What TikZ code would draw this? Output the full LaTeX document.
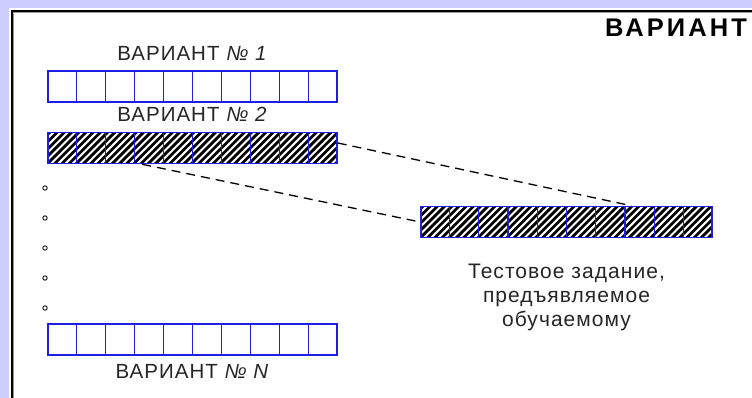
\documentclass[tikz,border=0pt]{standalone}
\usepackage{fontspec}
\setmainfont{Liberation Sans}
\newfontfamily\titlefont{Liberation Sans}[LetterSpace=12]
\newfontfamily\capfont{Liberation Sans}[LetterSpace=5]
\usetikzlibrary{positioning, calc}

\definecolor{lavender}{RGB}{204,204,255}
\definecolor{cellblue}{RGB}{30,30,230}

\begin{document}
\begin{tikzpicture}[x=1pt, y=1pt,
	cellrow/.style={draw=cellblue, line width=1.6pt, minimum width=289pt, minimum height=31pt, inner sep=0pt},
	hatched/.style={cellrow, fill=black, path picture={
		\foreach \k in {0,...,50}
			\draw[white, line width=2pt] ([xshift=\k*7.2pt-40pt]path picture bounding box.south west) -- ++(45:60pt);
	}},
	caption/.style={inner sep=0pt, font=\capfont\fontsize{20.5}{24}\selectfont, text=black!85},
	dashline/.style={black, line width=1.3pt, dash pattern=on 9pt off 6pt}
]
	\useasboundingbox (0,0) rectangle (752,398);
	% frame
	\fill[lavender] (0,0) rectangle (752,398);
	\fill[white] (9,0) rectangle (752,390);
	\draw[black!40, line width=1pt] (13.5,0) -- (13.5,385.5) -- (752,385.5);
	\draw[line width=2pt] (12,0) -- (12,387) -- (752,387);

	\node[inner sep=0pt, anchor=base west, font=\titlefont\bfseries\fontsize{25.5}{28}\selectfont] (title) at (605,361) {ВАРИАНТ};

	% variants
	\node[cellrow] (row1) at (192.5,311.5) {};
	\node[caption, above=9pt of row1] (lab1) {ВАРИАНТ \textit{№ 1}};
	\node[hatched] (row2) at (192.5,250) {};
	\node[caption, above=10pt of row2] (lab2) {ВАРИАНТ \textit{№ 2}};
	\node[cellrow] (rowN) at (192.5,58.5) {};
	\node[caption, below=8pt of rowN] (labN) {ВАРИАНТ \textit{№ N}};
	\foreach \y in {210,180,150,120,90}
		\draw[line width=0.9pt, fill=white] (45,\y) circle (2.2pt);

	% test task
	\node[hatched, minimum width=291pt] (task) at (566.5,176) {};
	\node[caption, align=center, below=26pt of task, font=\capfont\fontsize{21}{24}\selectfont] (taskText) {Тестовое задание,\\предъявляемое\\обучаемому};

	\foreach \r in {row1,row2,rowN,task}
		\foreach \i in {1,...,9}
			\draw[cellblue, line width=1.2pt] ($(\r.north west)!\i/10!(\r.north east)$) -- ($(\r.south west)!\i/10!(\r.south east)$);

	\coordinate (from1) at ([yshift=5pt]row2.east);
	\coordinate (to1) at ([xshift=211pt]task.north west);
	\coordinate (from2) at ([xshift=95pt]row2.south west);
	\draw[dashline] (from1) -- (to1);
	\draw[dashline] (from2) -- (task.west);
\end{tikzpicture}
\end{document}
